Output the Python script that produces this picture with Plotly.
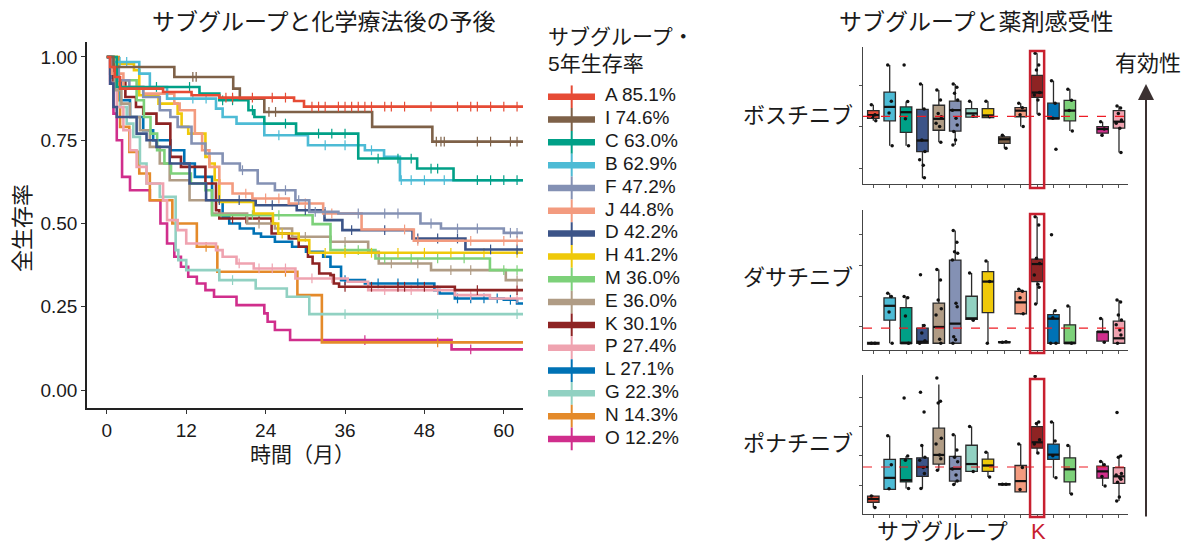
import plotly.graph_objects as go

W, H = 1191, 545
def px(x): return x / W
def py(y): return 1 - y / H

# ---------------- Kaplan-Meier data ----------------
legend_order = ["A", "I", "C", "B", "F", "J", "D", "H", "M", "E", "K", "P", "L", "G", "N", "O"]
legend_pct = ["85.1%", "74.6%", "63.0%", "62.9%", "47.2%", "44.8%", "42.2%", "41.2%",
              "36.0%", "36.0%", "30.1%", "27.4%", "27.1%", "22.3%", "14.3%", "12.2%"]
colors = {
    "A": "#E64B35", "I": "#7E6148", "C": "#00A087", "B": "#4DBBD5", "F": "#8491B4",
    "J": "#F39B7F", "D": "#3C5488", "H": "#EFC90A", "M": "#7DD17A", "E": "#B09C85",
    "K": "#8E2323", "P": "#EFA3B0", "L": "#0072B5", "G": "#91D1C2", "N": "#E48A2A",
    "O": "#D02E8C",
}

km_A_t = [0, 0.5, 1.2, 2.0, 8.5, 12.8, 17.0, 28.3, 29.8]
km_A_s = [1.0, 0.97, 0.94, 0.905, 0.895, 0.885, 0.878, 0.868, 0.851]
km_A_c = [18, 19, 22, 25, 27, 31, 32, 33, 35, 36, 37, 38, 39, 40, 42, 43, 45, 49, 53, 55, 56, 58, 60, 62]

km_I_t = [0, 1.0, 10.2, 19.1, 20.1, 23.8, 40.1, 49.2]
km_I_s = [1.0, 0.97, 0.94, 0.905, 0.875, 0.835, 0.79, 0.746]
km_I_c = [13, 13.5, 24.5, 25.5, 49.8, 50.5, 51, 56, 58, 61, 62]

km_C_t = [0, 1.5, 14.0, 17.0, 21.4, 22.3, 23.8, 28.6, 38.0, 46.9, 52.4]
km_C_s = [1.0, 0.91, 0.89, 0.87, 0.84, 0.82, 0.80, 0.77, 0.695, 0.665, 0.63]
km_C_c = [7.5, 12.5, 17.5, 19, 22, 27, 32, 34, 36, 41, 44, 46, 49, 50, 56, 58, 60, 62]

km_B_t = [0, 1.0, 4.9, 6.5, 9.1, 16.5, 17.5, 19.6, 23.8, 30.4, 39.0, 41.9, 44.3]
km_B_s = [1.0, 0.985, 0.95, 0.91, 0.875, 0.845, 0.82, 0.80, 0.765, 0.735, 0.72, 0.70, 0.63]
km_B_c = [2, 3, 13, 15, 26, 33, 36, 40, 44.5, 46, 48, 51]

km_F_t = [0, 0.7, 1.8, 3.4, 5.5, 8.0, 9.6, 10.7, 12.8, 14.9, 17.5, 20.1, 22.8, 25.4, 28.5, 30.6, 35.0, 47.4, 50.5, 60.0]
km_F_s = [1.0, 0.97, 0.93, 0.91, 0.88, 0.84, 0.82, 0.79, 0.74, 0.71, 0.68, 0.66, 0.62, 0.60, 0.57, 0.535, 0.53, 0.50, 0.485, 0.472]
km_F_c = [20.5, 27, 29, 31.5, 33, 38, 42, 44, 49, 53, 56, 61, 62]

km_J_t = [0, 0.8, 2.5, 5.5, 10.2, 11.0, 13.3, 14.4, 15.5, 17.0, 19.0, 22.0, 27.5, 32.7, 38.5, 46.4]
km_J_s = [1.0, 0.95, 0.91, 0.89, 0.86, 0.84, 0.77, 0.72, 0.67, 0.62, 0.59, 0.575, 0.56, 0.53, 0.482, 0.448]
km_J_c = [21, 24, 26, 30, 34, 45, 47, 55, 60, 62]

km_D_t = [0, 0.5, 1.0, 1.5, 4.5, 6.0, 7.5, 9.5, 12.5, 15.0, 22.5, 28.7, 32.9, 35.6, 46.2, 54.2]
km_D_s = [1.0, 0.92, 0.85, 0.82, 0.77, 0.75, 0.73, 0.68, 0.62, 0.57, 0.555, 0.54, 0.51, 0.48, 0.455, 0.422]
km_D_c = [17, 20, 25, 30, 37, 42, 47, 50, 53, 58, 62]

km_H_t = [0, 1.5, 4.1, 4.9, 7.8, 10.7, 11.3, 12.3, 14.9, 15.5, 16.3, 17.0, 22.2, 25.1, 25.9, 29.0, 30.6]
km_H_s = [1.0, 0.98, 0.96, 0.885, 0.86, 0.83, 0.79, 0.77, 0.70, 0.68, 0.63, 0.565, 0.53, 0.50, 0.47, 0.45, 0.412]
km_H_c = [26.5, 33, 36, 40, 44, 48, 52, 57, 62]

km_M_t = [0, 0.6, 1.6, 4.5, 5.6, 6.6, 7.6, 8.7, 9.7, 12.7, 14.9, 15.9, 31.1, 33.8, 40.6, 57.9]
km_M_s = [1.0, 0.95, 0.93, 0.87, 0.82, 0.77, 0.72, 0.68, 0.65, 0.62, 0.60, 0.525, 0.498, 0.42, 0.395, 0.36]
km_M_c = [22, 26, 36, 38, 42, 46, 50, 54, 60, 62]

km_E_t = [0, 0.5, 1.2, 2.2, 3.5, 5.0, 6.5, 8.0, 9.5, 12.5, 15.9, 21.2, 25.4, 28.0, 33.8, 39.5, 41.1, 49.0, 60.3]
km_E_s = [1.0, 0.95, 0.90, 0.86, 0.82, 0.78, 0.73, 0.68, 0.63, 0.57, 0.53, 0.50, 0.485, 0.46, 0.445, 0.415, 0.38, 0.36, 0.33]
km_E_c = [23, 30, 36, 43, 47, 52, 55, 62]

km_K_t = [0, 1.0, 2.8, 4.4, 5.5, 7.5, 9.6, 11.2, 14.9, 16.5, 17.0, 24.9, 27.5, 29.0, 30.4, 31.1, 32.1, 33.8, 34.3, 35.1, 52.6]
km_K_s = [1.0, 0.93, 0.88, 0.85, 0.83, 0.80, 0.70, 0.67, 0.62, 0.54, 0.515, 0.47, 0.455, 0.43, 0.40, 0.38, 0.35, 0.345, 0.32, 0.31, 0.30]
km_K_c = [19, 21, 23, 36, 40, 44, 45, 48, 56, 62]

km_P_t = [0, 0.5, 1.5, 2.5, 3.5, 4.5, 6.0, 8.5, 9.1, 10.7, 12.0, 16.5, 17.5, 19.6, 22.2, 28.5, 36.4, 39.5, 52.6, 57.9]
km_P_s = [1.0, 0.93, 0.85, 0.78, 0.72, 0.67, 0.62, 0.57, 0.51, 0.48, 0.44, 0.42, 0.40, 0.38, 0.365, 0.335, 0.325, 0.30, 0.285, 0.275]
km_P_c = [20, 23, 25, 27, 31, 34, 42, 46, 50, 55, 62]

km_L_t = [0, 0.8, 2.1, 3.5, 5.5, 7.0, 9.6, 11.7, 13.3, 15.9, 17.5, 18.5, 20.1, 22.2, 23.3, 25.4, 28.0, 30.1, 32.7, 33.8, 35.4, 39.0, 49.5, 50.3, 52.6, 60.0, 62.0]
km_L_s = [1.0, 0.93, 0.87, 0.82, 0.78, 0.75, 0.72, 0.68, 0.64, 0.57, 0.52, 0.50, 0.485, 0.47, 0.46, 0.445, 0.43, 0.415, 0.40, 0.37, 0.33, 0.32, 0.30, 0.29, 0.275, 0.271, 0.26]
km_L_c = [36, 41, 44, 47, 53, 55, 57, 59, 61]

km_G_t = [0, 1.0, 2.0, 3.0, 4.0, 5.0, 6.0, 8.0, 10.4, 10.8, 12.0, 17.0, 22.5, 27.2, 30.6]
km_G_s = [1.0, 0.93, 0.85, 0.80, 0.76, 0.68, 0.62, 0.58, 0.42, 0.39, 0.36, 0.33, 0.305, 0.28, 0.228]
km_G_c = [19, 36, 50, 62]

km_N_t = [0, 1.8, 2.0, 3.4, 4.9, 6.5, 9.9, 13.6, 16.7, 28.8, 32.5]
km_N_s = [1.0, 0.87, 0.79, 0.715, 0.65, 0.57, 0.50, 0.43, 0.355, 0.285, 0.143]
km_N_c = [15, 27, 50]

km_O_t = [0, 0.5, 1.0, 1.5, 2.3, 3.5, 6.5, 8.1, 9.1, 10.2, 11.2, 12.3, 13.6, 14.9, 16.2, 19.6, 23.8, 24.3, 25.4, 27.7, 52.1]
km_O_s = [1.0, 0.92, 0.83, 0.75, 0.64, 0.60, 0.57, 0.50, 0.44, 0.40, 0.37, 0.34, 0.32, 0.30, 0.28, 0.255, 0.23, 0.205, 0.18, 0.15, 0.122]
km_O_c = [39, 55]

km_end = 63.0

km = {
    "A": (km_A_t, km_A_s, km_A_c), "I": (km_I_t, km_I_s, km_I_c), "C": (km_C_t, km_C_s, km_C_c),
    "B": (km_B_t, km_B_s, km_B_c), "F": (km_F_t, km_F_s, km_F_c), "J": (km_J_t, km_J_s, km_J_c),
    "D": (km_D_t, km_D_s, km_D_c), "H": (km_H_t, km_H_s, km_H_c), "M": (km_M_t, km_M_s, km_M_c),
    "E": (km_E_t, km_E_s, km_E_c), "K": (km_K_t, km_K_s, km_K_c), "P": (km_P_t, km_P_s, km_P_c),
    "L": (km_L_t, km_L_s, km_L_c), "G": (km_G_t, km_G_s, km_G_c), "N": (km_N_t, km_N_s, km_N_c),
    "O": (km_O_t, km_O_s, km_O_c),
}

# ---------------- Drug sensitivity box data (A..P) ----------------
groups = ["A", "B", "C", "D", "E", "F", "G", "H", "I", "J", "K", "L", "M", "N", "O", "P"]

bos_lo  = [2.15, 1.54, 1.54, 0.75, 1.63, 1.56, 2.24, 2.23, 1.48, 2.01, 2.31, 2.20, 1.90, None, 1.76, 1.38]
bos_q1  = [2.21, 2.15, 1.87, 1.40, 1.92, 1.90, 2.24, 2.23, 1.60, 2.25, 2.72, 2.20, 2.15, None, 1.85, 1.97]
bos_med = [2.29, 2.49, 2.36, 1.67, 2.20, 2.41, 2.33, 2.28, 1.70, 2.40, 2.84, 2.21, 2.40, None, 1.95, 2.13]
bos_q3  = [2.40, 2.85, 2.49, 2.43, 2.53, 2.63, 2.45, 2.45, 1.76, 2.47, 3.26, 2.58, 2.65, None, 2.01, 2.40]
bos_hi  = [2.54, 3.51, 2.62, 3.05, 2.90, 3.05, 2.63, 2.63, 1.80, 2.58, 3.80, 3.13, 2.92, None, 2.13, 2.51]
bos_pts = [[2.54, 2.30, 2.25, 2.15], [3.51, 2.63, 2.34, 1.54], [3.51, 2.62, 2.20, 1.54],
           [3.05, 2.44, 1.68, 1.40, 1.20, 1.07, 0.76], [2.90, 2.66, 2.33, 2.25, 2.09, 2.01, 1.63],
           [3.05, 2.97, 2.82, 2.66, 2.41, 2.21, 2.05, 1.89, 1.68, 1.56], [2.63, 2.27], [2.63, 2.25],
           [1.80, 1.48], [2.58, 2.47, 2.30, 2.01], [3.80, 3.51, 3.39, 2.84, 2.78, 2.66, 2.31],
           [3.13, 2.58, 2.21, 1.46], [2.92, 2.65, 2.40, 1.90], [], [2.13, 1.95, 1.80],
           [2.51, 2.46, 2.33, 2.17, 2.09, 1.97, 1.38]]
bos_ref = 2.26

das_lo  = [0.44, 0.47, 0.47, 0.47, 0.47, 0.47, 1.25, 0.47, 0.49, 1.40, 1.75, 0.47, 0.47, None, 0.54, 0.47]
das_q1  = [0.44, 1.22, 0.47, 0.47, 0.47, 0.47, 1.25, 1.47, 0.49, 1.43, 2.48, 0.47, 0.47, None, 0.54, 0.47]
das_med = [0.47, 1.69, 0.47, 0.52, 1.00, 1.11, 1.28, 2.48, 0.50, 1.80, 3.05, 1.27, 0.47, None, 0.85, 0.63]
das_q3  = [0.50, 1.95, 1.63, 0.96, 1.78, 3.18, 2.00, 2.80, 0.52, 2.16, 3.21, 1.40, 1.07, None, 0.85, 1.19]
das_hi  = [0.50, 2.10, 1.99, 1.10, 2.87, 4.14, 2.76, 3.15, 0.52, 2.23, 4.59, 1.53, 1.68, None, 1.28, 1.88]
das_pts = [[0.47, 0.47], [2.10, 1.99, 1.49, 0.47], [1.99, 1.95, 1.36, 0.47], [2.70, 1.05, 0.80, 0.55, 0.47],
           [2.87, 2.53, 1.88, 1.59, 1.39, 0.60, 0.47],
           [4.14, 3.76, 3.45, 3.40, 3.18, 1.77, 1.66, 0.68, 0.58, 0.47], [2.76, 1.22], [3.15, 2.48, 0.47],
           [0.50, 0.52], [2.23, 2.16, 1.95, 1.43], [4.59, 4.32, 3.24, 3.07, 2.69, 2.39, 2.29, 1.75],
           [4.00, 1.53, 1.30, 0.47, 0.47], [1.68, 0.47], [], [1.28, 0.50],
           [1.88, 1.81, 1.39, 1.23, 1.07, 0.90, 0.74, 0.47]]
das_ref = 0.96

pon_lo  = [0.24, 0.86, 0.89, 0.89, 1.51, 1.02, 1.47, 1.28, 1.01, 0.77, 2.07, 1.25, 0.70, None, 0.97, 0.46]
pon_q1  = [0.42, 0.86, 1.11, 1.30, 1.72, 1.14, 1.47, 1.47, 1.01, 0.77, 2.26, 1.88, 1.11, None, 1.24, 1.06]
pon_med = [0.53, 1.25, 1.17, 1.62, 2.03, 1.56, 1.72, 1.67, 1.03, 1.14, 2.46, 2.04, 1.54, None, 1.47, 1.30]
pon_q3  = [0.63, 1.88, 1.90, 1.93, 2.94, 1.98, 2.36, 1.89, 1.05, 1.67, 2.99, 2.40, 1.93, None, 1.65, 1.60]
pon_hi  = [0.66, 2.68, 1.99, 2.35, 4.43, 2.72, 3.00, 2.12, 1.05, 2.40, 3.15, 3.15, 2.35, None, 1.81, 1.99]
pon_pts = [[0.63, 0.24], [2.68, 1.70, 0.88], [3.97, 1.99, 1.85, 0.89],
           [4.16, 3.49, 2.35, 1.95, 1.85, 1.60, 1.40, 0.89], [4.65, 3.86, 3.80, 2.60, 2.40, 2.03, 1.90, 1.51],
           [2.72, 2.20, 1.95, 1.80, 1.55, 1.35, 1.14, 1.02], [3.00, 1.47], [2.12, 1.28], [1.03, 1.03],
           [2.40, 1.60, 0.85], [4.70, 3.15, 3.10, 2.55, 2.40, 2.10], [3.15, 2.50, 2.00, 1.25],
           [2.35, 0.70], [], [1.81, 1.70, 1.30, 0.97],
           [3.47, 1.99, 1.95, 1.40, 1.35, 1.25, 1.20, 1.10, 0.60, 0.46]]
pon_ref = 1.62

drug_names = ["ボスチニブ", "ダサチニブ", "ポナチニブ"]

# ---------------- build figure ----------------
FONT = "Liberation Sans, Arial, Noto Sans CJK JP, sans-serif"
fig = go.Figure()


def step_at(ts, ss, t):
    v = ss[0]
    for ti, si in zip(ts, ss):
        if ti <= t:
            v = si
    return v


for g in reversed(legend_order):
    ts, ss, cs = km[g]
    c = colors[g]
    fig.add_trace(go.Scatter(x=ts + [km_end], y=ss + [ss[-1]], mode="lines",
                             line=dict(color=c, width=2.6, shape="hv"),
                             showlegend=False, hoverinfo="skip", xaxis="x", yaxis="y"))
    fig.add_trace(go.Scatter(x=cs, y=[step_at(ts, ss, t) for t in cs], mode="markers",
                             marker=dict(symbol="line-ns", size=7, line=dict(width=1.2, color=c)),
                             showlegend=False, hoverinfo="skip", xaxis="x", yaxis="y"))

# legend drawn on its own hidden axes
for i, (g, p) in enumerate(zip(legend_order, legend_pct)):
    c = colors[g]
    fig.add_trace(go.Scatter(x=[23.7, 23.7], y=[i - 0.5, i + 0.5], mode="lines",
                             line=dict(color=c, width=2), showlegend=False, hoverinfo="skip",
                             xaxis="x5", yaxis="y5"))
    fig.add_trace(go.Scatter(x=[0, 47], y=[i, i], mode="lines",
                             line=dict(color=c, width=6.5), showlegend=False, hoverinfo="skip",
                             xaxis="x5", yaxis="y5"))
fig.add_trace(go.Scatter(x=[57] * len(legend_order), y=list(range(len(legend_order))), mode="text",
                         text=[f"{g} {p}" for g, p in zip(legend_order, legend_pct)],
                         textposition="middle right", textfont=dict(size=19, color="#1a1a1a", family=FONT),
                         showlegend=False, hoverinfo="skip", xaxis="x5", yaxis="y5"))

# box panels
jit = [-0.12, 0.10, -0.04, 0.15, -0.17, 0.05, 0.12, -0.09, 0.02, -0.14]
panels = [
    (bos_lo, bos_q1, bos_med, bos_q3, bos_hi, bos_pts, "x2", "y2"),
    (das_lo, das_q1, das_med, das_q3, das_hi, das_pts, "x3", "y3"),
    (pon_lo, pon_q1, pon_med, pon_q3, pon_hi, pon_pts, "x4", "y4"),
]
for lo, q1, med, q3, hi, pts, xa, ya in panels:
    px_all, py_all = [], []
    mx, my = [], []
    for k, g in enumerate(groups):
        if q1[k] is None:
            continue
        pos = k + 1
        fig.add_trace(go.Box(x=[pos], q1=[q1[k]], median=[med[k]], q3=[q3[k]],
                             lowerfence=[lo[k]], upperfence=[hi[k]],
                             fillcolor=colors[g], line=dict(color="#2b2b2b", width=1.3),
                             whiskerwidth=0, width=0.7, boxpoints=False,
                             showlegend=False, hoverinfo="skip", xaxis=xa, yaxis=ya))
        mx += [pos - 0.35, pos + 0.35, None]
        my += [med[k], med[k], None]
        for j, v in enumerate(pts[k]):
            px_all.append(pos + jit[j % len(jit)])
            py_all.append(v)
    fig.add_trace(go.Scatter(x=mx, y=my, mode="lines", line=dict(color="#111111", width=2.2),
                             showlegend=False, hoverinfo="skip", xaxis=xa, yaxis=ya))
    fig.add_trace(go.Scatter(x=px_all, y=py_all, mode="markers",
                             marker=dict(color="#111111", size=3.5),
                             showlegend=False, hoverinfo="skip", xaxis=xa, yaxis=ya))

# ---------------- layout ----------------
box_xdom = [px(863), px(1128)]
box_axis_x = dict(domain=box_xdom, range=[0.37, 16.55], tickvals=list(range(1, 17)),
                  showticklabels=False, ticks="outside", ticklen=3, tickcolor="#555",
                  showline=True, linecolor="#444", linewidth=1.2, showgrid=False, zeroline=False)
box_axis_y = dict(showticklabels=False, ticks="outside", ticklen=3, tickcolor="#555",
                  showline=True, linecolor="#444", linewidth=1.2, showgrid=False, zeroline=False)

fig.update_layout(
    width=W, height=H, margin=dict(l=0, r=0, t=0, b=0),
    paper_bgcolor="white", plot_bgcolor="white",
    font=dict(family=FONT, color="#1a1a1a"),
    showlegend=False,
    xaxis=dict(domain=[px(87), px(523)], range=[-3.0, 62.9], tickvals=[0, 12, 24, 36, 48, 60],
               ticks="outside", ticklen=4, tickwidth=1.2, tickcolor="#333",
               showline=True, linecolor="#222", linewidth=1.5, showgrid=False, zeroline=False,
               tickfont=dict(size=19), anchor="y"),
    yaxis=dict(domain=[py(408), py(42)], range=[-0.054, 1.045], tickvals=[0, 0.25, 0.5, 0.75, 1.0],
               tickformat=".2f", ticks="outside", ticklen=4, tickwidth=1.2, tickcolor="#333",
               showline=True, linecolor="#222", linewidth=1.5, showgrid=False, zeroline=False,
               tickfont=dict(size=19), anchor="x"),
    xaxis2=dict(box_axis_x, anchor="y2"),
    yaxis2=dict(box_axis_y, domain=[py(184), py(47)], range=[0.61, 3.95], tickvals=[1, 2, 3], anchor="x2"),
    xaxis3=dict(box_axis_x, anchor="y3"),
    yaxis3=dict(box_axis_y, domain=[py(350), py(210)], range=[0.25, 4.81], tickvals=[1, 2, 3, 4], anchor="x3"),
    xaxis4=dict(box_axis_x, anchor="y4"),
    yaxis4=dict(box_axis_y, domain=[py(514), py(375)], range=[0.02, 4.75], tickvals=[1, 2, 3, 4], anchor="x4"),
    xaxis5=dict(domain=[px(548), px(738)], range=[0, 190], visible=False, anchor="y5"),
    yaxis5=dict(domain=[py(450.4), py(85.3)], range=[15.5, -0.5], visible=False, anchor="x5"),
)

ann = []
def text(t, x, y, size, color="#1a1a1a", xanchor="center", angle=0):
    ann.append(dict(text=t, x=px(x), y=py(y), xref="paper", yref="paper", showarrow=False,
                    xanchor=xanchor, yanchor="middle", textangle=angle,
                    font=dict(size=size, color=color, family=FONT)))

text("サブグループと化学療法後の予後", 324, 22, 23)
text("全生存率", 22, 228, 22, angle=-90)
text("時間（月）", 302, 454, 21)
text("サブグループ・", 546, 36, 21, xanchor="left")
text("5年生存率", 546, 63, 21, xanchor="left")
text("サブグループと薬剤感受性", 976, 22, 23)
for name, yy in zip(drug_names, [115, 277, 443]):
    text(name, 798, yy, 22)
text("有効性", 1148, 63, 22)
text("サブグループ", 942, 531, 22)
text("K", 1038, 531, 22, color="#c8202f")
ann.append(dict(x=px(1146), y=py(84), xref="paper", yref="paper", ax=0, ay=434,
                axref="pixel", ayref="pixel", text="", showarrow=True, arrowhead=2,
                arrowsize=1.6, arrowwidth=2, arrowcolor="#3b3131", standoff=0))
fig.update_layout(annotations=ann)

shapes = []
k_pos = groups.index("K") + 1
for xa, ya, ref, (yt, yb) in [("x2", "y2", bos_ref, (51, 188)),
                              ("x3", "y3", das_ref, (214, 353)),
                              ("x4", "y4", pon_ref, (379, 517))]:
    shapes.append(dict(type="line", xref=f"{xa} domain", yref=ya, x0=0, x1=1, y0=ref, y1=ref,
                       line=dict(color="#ee1c25", width=1.2, dash="dash")))
    shapes.append(dict(type="rect", xref=xa, yref="paper", x0=k_pos - 0.43, x1=k_pos + 0.43,
                       y0=py(yb), y1=py(yt), line=dict(color="#c8202f", width=2.5)))
fig.update_layout(shapes=shapes)

fig.write_html("out.html")
